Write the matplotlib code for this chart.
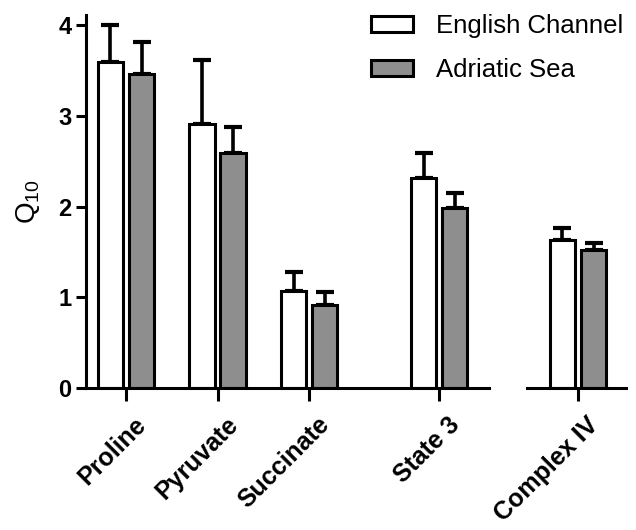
import matplotlib
matplotlib.use("Agg")
import matplotlib.pyplot as plt
import matplotlib.transforms as mtransforms
import numpy as np

plt.rcParams['font.family'] = ['Liberation Sans', 'DejaVu Sans']
plt.rcParams['mathtext.fontset'] = 'custom'
plt.rcParams['mathtext.rm'] = 'Liberation Sans'
plt.rcParams['mathtext.it'] = 'Liberation Sans'
plt.rcParams['mathtext.sf'] = 'Liberation Sans'

# ---- data ----
categories = ["Proline", "Pyruvate", "Succinate", "State 3", "Complex IV"]
series_names = ["English Channel", "Adriatic Sea"]
english_channel = [3.59, 2.91, 1.075, 2.32, 1.63]
english_channel_err = [0.41, 0.70, 0.205, 0.27, 0.13]
adriatic_sea = [3.46, 2.59, 0.92, 1.98, 1.52]
adriatic_sea_err = [0.35, 0.29, 0.14, 0.17, 0.08]
y_ticks = [0, 1, 2, 3, 4]

# ---- layout ----
left_pos = [0, 1, 2, 3.42]   # first four groups on left panel
right_pos = [0]              # Complex IV on right panel
offset = 0.17
width = 0.28
colors = ['white', '#8e8e8e']
lw = 2.2

fig = plt.figure(figsize=(6.36, 5.30), dpi=100)
ax1 = fig.add_axes([86/636, 141.7/530, (488.5-86)/636, (515-141.7)/530])
ax2 = fig.add_axes([526.6/636, 141.7/530, (626.2-526.6)/636, (515-141.7)/530])

def draw(ax, pos, idx):
    pos = np.array(pos, dtype=float)
    vals = [(english_channel, english_channel_err), (adriatic_sea, adriatic_sea_err)]
    for s, (v, e) in enumerate(vals):
        x = pos + (-offset if s == 0 else offset)
        yv = [v[i] for i in idx]
        ye = [e[i] for i in idx]
        ax.errorbar(x, yv, yerr=[np.zeros(len(ye)), ye], fmt='none', ecolor='black',
                    elinewidth=2.6, capsize=6.5, capthick=3.0, zorder=1)
        ax.bar(x, yv, width=width, color=colors[s], edgecolor='black', linewidth=lw,
               zorder=2, label=series_names[s])

draw(ax1, left_pos, [0, 1, 2, 3])
draw(ax2, right_pos, [4])

ymax = 4.11
for ax in (ax1, ax2):
    ax.set_ylim(0, ymax)
    for sp in ('top', 'right'):
        ax.spines[sp].set_visible(False)
    ax.spines['bottom'].set_linewidth(lw)
    ax.spines['left'].set_linewidth(lw)
    ax.tick_params(axis='both', width=lw, length=7, labelsize=17)
    ax.tick_params(axis='x', length=9)

ax1.set_xlim(-0.437, 3.96)
ax2.set_xlim(-0.562, 0.527)
ax2.spines['left'].set_visible(False)
ax2.set_yticks([])

ax1.set_yticks(y_ticks)
ax1.set_yticklabels([str(t) for t in y_ticks], fontweight='bold')
ax1.set_ylabel(r'Q$_\mathrm{10}$', fontsize=20, labelpad=12)

ax1.set_xticks(left_pos)
ax1.set_xticklabels(categories[:4])
ax2.set_xticks(right_pos)
ax2.set_xticklabels(categories[4:])
shift = mtransforms.ScaledTranslation(8/100, -7/100, fig.dpi_scale_trans)
for ax in (ax1, ax2):
    for lab in ax.get_xticklabels():
        lab.set_rotation(45)
        lab.set_ha('right')
        lab.set_va('top')
        lab.set_rotation_mode('anchor')
        lab.set_fontweight('bold')
        lab.set_fontsize(18)
        lab.set_transform(lab.get_transform() + shift)

handles, labels = ax1.get_legend_handles_labels()
fig.legend(handles, labels, loc='upper left', bbox_to_anchor=(371/636, 1 - 14/530),
           frameon=False, fontsize=18.5, handlelength=1.62, handleheight=0.6,
           handletextpad=0.9, labelspacing=0.78, borderpad=0, borderaxespad=0)

fig.savefig('out.png', dpi=100)
